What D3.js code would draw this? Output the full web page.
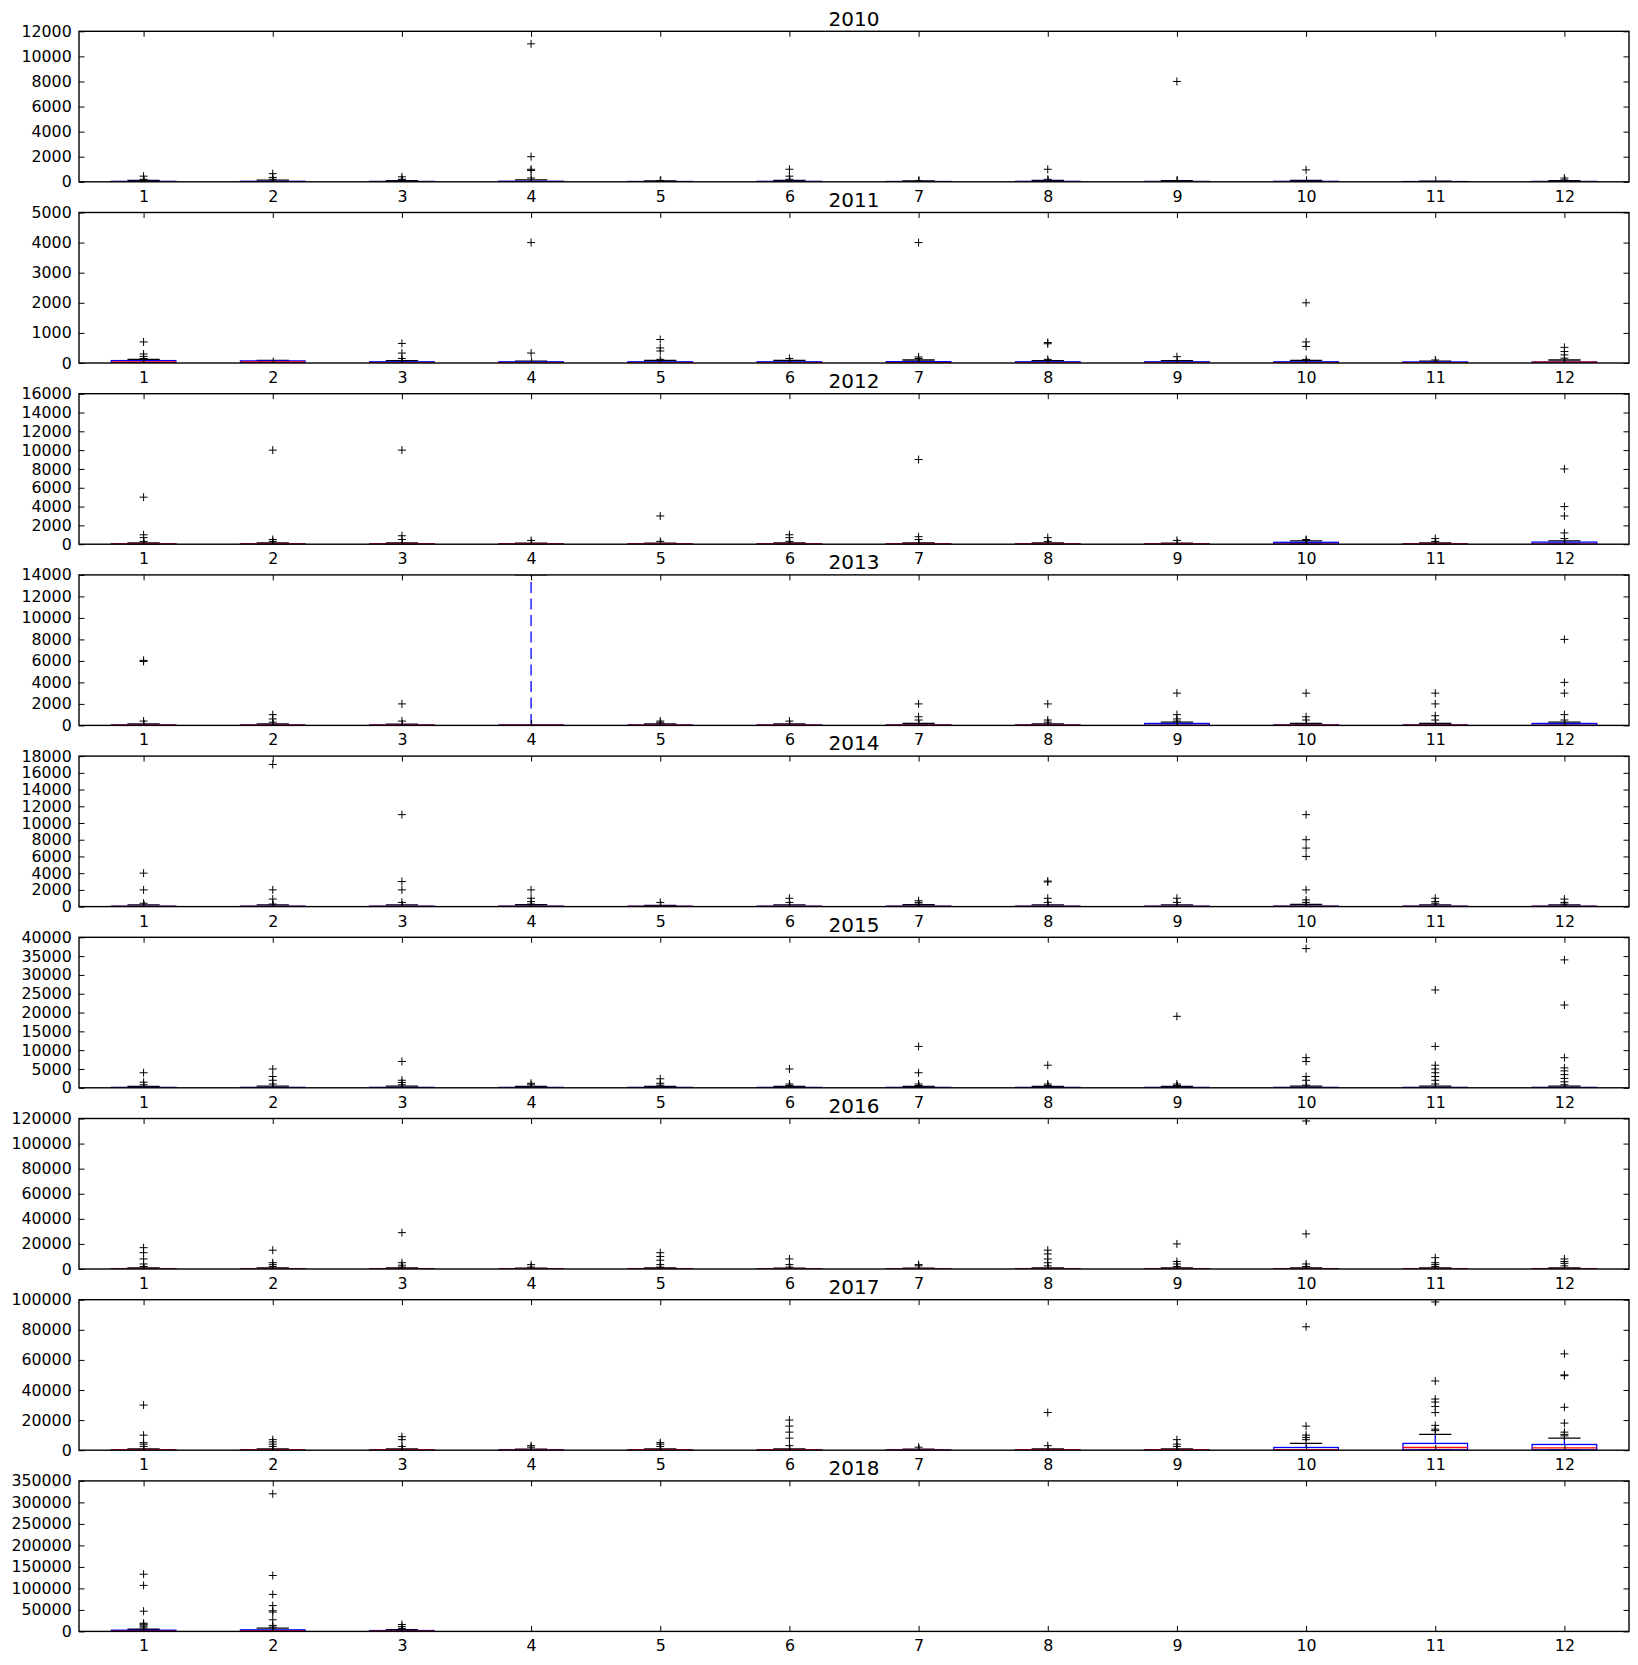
<!DOCTYPE html>
<html><head><meta charset="utf-8">
<script src="https://cdn.jsdelivr.net/npm/d3@7"></script>
<style>
body{margin:0;background:#fff;}
svg{display:block;}
text{font-family:"DejaVu Sans",sans-serif;fill:#000;}
</style>
</head><body>
<svg id="chart" width="1638" height="1665"></svg>
<script>
const years = [2010, 2011, 2012, 2013, 2014, 2015, 2016, 2017, 2018];
const months = [1, 2, 3, 4, 5, 6, 7, 8, 9, 10, 11, 12];
const yMax = [12000, 5000, 16000, 14000, 18000, 40000, 120000, 100000, 350000];
const yStep = [2000, 1000, 2000, 2000, 2000, 5000, 20000, 20000, 50000];

// box stats per month: [low whisker, q1, median, q3, high whisker]
const box2010 = [[0,3,15,35,120],[0,3,15,40,130],[0,3,12,30,100],[0,4,18,45,160],[0,2,10,25,80],[0,3,15,35,120],[0,2,8,25,70],[0,3,15,35,120],[0,3,12,30,90],[0,3,15,35,110],[0,2,6,20,50],[0,3,12,30,90]];
const box2011 = [[0,10,40,80,120],[0,10,40,70,90],[0,2,8,40,80],[0,2,8,40,60],[0,2,8,40,90],[0,2,8,40,90],[0,3,10,45,100],[0,2,8,40,80],[0,2,8,40,80],[0,2,8,40,90],[0,2,8,35,60],[0,15,30,35,100]];
const box2012 = [[0,5,20,45,150],[0,5,20,45,130],[0,5,20,45,150],[0,5,20,40,120],[0,5,20,40,120],[0,5,20,45,150],[0,5,20,45,150],[0,5,20,45,150],[0,5,20,40,120],[0,5,15,200,350],[0,5,20,45,150],[0,5,15,220,350]];
const box2013 = [[0,5,20,40,150],[0,5,20,40,150],[0,5,20,40,120],[0,5,20,40,14000],[0,5,20,40,150],[0,5,20,40,150],[0,5,20,45,180],[0,5,20,45,150],[0,5,10,180,300],[0,5,20,45,180],[0,5,20,45,180],[0,5,10,180,300]];
const box2014 = [[0,5,25,50,200],[0,5,25,50,200],[0,5,25,50,200],[0,5,25,55,220],[0,5,25,45,150],[0,5,25,50,200],[0,5,25,55,220],[0,5,25,55,210],[0,5,25,50,200],[0,5,30,60,250],[0,5,25,55,210],[0,5,25,50,200]];
const box2015 = [[0,10,50,110,400],[0,10,55,120,450],[0,10,55,120,450],[0,10,50,110,400],[0,10,50,110,380],[0,10,50,110,380],[0,10,50,110,400],[0,10,50,110,400],[0,10,50,110,380],[0,10,55,120,450],[0,10,55,120,450],[0,10,55,120,450]];
const box2016 = [[0,30,150,300,900],[0,30,150,300,900],[0,30,150,300,800],[0,30,140,280,700],[0,30,150,300,800],[0,30,140,280,700],[0,30,140,280,700],[0,30,150,300,850],[0,30,150,300,800],[0,30,150,300,900],[0,30,150,300,850],[0,30,150,300,850]];
const box2017 = [[0,30,120,250,900],[0,30,120,250,900],[0,30,120,240,800],[0,30,110,220,700],[0,30,120,240,800],[0,30,120,250,900],[0,30,110,220,700],[0,30,120,240,800],[0,30,120,240,800],[0,100,300,1800,4500],[0,200,1800,4500,10500],[0,200,1500,3800,8000]];
const box2018 = [[0,300,800,2800,5000],[0,300,1000,3600,7500],[0,300,800,2000,4000],null,null,null,null,null,null,null,null,null];

// outliers per month
const fliers2010 = [[450,200,120],[650,350,200],[400,200,150],[11000,2000,1000,900,300],[100],[1000,450,200],[80],[1000,200],[8000,100],[950],[],[300,150]];
const fliers2011 = [[700,300,220,150],[],[650,330,150,80],[4000,330],[780,500,400,120],[150],[4000,200,150],[680,640,120],[210],[2000,700,550,120],[100],[520,380,270,160]];
const fliers2012 = [[5000,1000,700,300],[10000,500,300],[10000,900,500],[400],[3000,300],[1000,700,300],[9000,800,500],[700,300],[400],[500,400],[600,300],[8000,4000,3000,1200,600]];
const fliers2013 = [[6050,5950,400],[1000,600,300],[2000,400],[],[400,250],[400],[2000,800,500],[2000,500,300],[3000,1000,600,400],[3000,800,500],[3000,2000,900,500],[8000,4000,3000,1000,500]];
const fliers2014 = [[4000,2000,400],[17000,2000,900,300],[11000,3000,2000,500],[2000,1000,600,300],[500],[1000,500],[700,500,300],[3050,2950,1000,500],[1000,500],[11000,8000,7000,6000,2000,800,500],[1000,600,400],[900,500,300]];
const fliers2015 = [[4000,1500,800],[5000,3000,2000,1000],[7000,2000,1400,800],[1200,800],[2400,1200,700],[5000,1000,600],[11000,4000,1000,600],[6000,1000,600],[19000,1000,600],[37000,8000,7000,3000,2000,700],[26000,11000,6000,5000,4000,3000,2000,1000],[34000,22000,8000,5300,4500,3500,2500,1600,800]];
const fliers2016 = [[17000,13000,8000,4000,2000],[15000,5000,3500,2000],[29000,5000,3000,1500],[3500,1500],[13000,10000,7000,3500,1500],[8000,3500,1500],[3500,2500],[15000,12000,8000,5000,2500],[20000,6000,4000,2000],[118000,28000,4000,2000],[9000,5000,3500,2000],[8000,6000,4500,2500]];
const fliers2017 = [[30000,10000,5000,4000,2500],[7000,5500,4000,2500],[9000,7000,2500],[3000,2000],[5000,4000,2500],[20000,16000,12000,8000,3000],[2000],[25000,3000],[7000,4000,2500],[82000,16000,10000,8500,7000],[98500,46000,34000,32000,29000,25000,16500,14000,13000],[64000,50000,49500,28500,18000,12000,10500,9500]];
const fliers2018 = [[133000,107000,47000,19000,17000,15000,12000,8000],[320000,130000,86000,60000,48000,45000,27000,14000,10000],[16000,11000,7000],[],[],[],[],[],[],[],[],[]];

const boxes = [box2010, box2011, box2012, box2013, box2014, box2015, box2016, box2017, box2018];
const fliers = [fliers2010, fliers2011, fliers2012, fliers2013, fliers2014, fliers2015, fliers2016, fliers2017, fliers2018];

const svg = d3.select('#chart');
const left = 79, right = 1629, top0 = 31.3, pitch = 181.2, ph = 150.5;
const x = d3.scaleLinear().domain([0.5, 12.5]).range([left, right]);
const boxHalf = 0.25, capHalf = 0.125;
const lw = 1.3;

years.forEach((yr, i) => {
  const top = top0 + i * pitch, bottom = top + ph;
  const y = d3.scaleLinear().domain([0, yMax[i]]).range([bottom, top]);
  const g = svg.append('g');
  const cid = 'clip' + i;
  svg.append('clipPath').attr('id', cid).append('rect')
    .attr('x', left).attr('y', top).attr('width', right - left).attr('height', ph);
  const data = g.append('g').attr('clip-path', `url(#${cid})`);

  months.forEach((m, j) => {
    const s = boxes[i][j];
    if (s) {
      const [lo, q1, med, q3, hi] = s;
      data.append('line').attr('x1', x(m)).attr('x2', x(m)).attr('y1', y(q3)).attr('y2', y(hi))
        .attr('stroke', '#0000ff').attr('stroke-width', lw).attr('stroke-dasharray', '11,5.5');
      data.append('line').attr('x1', x(m)).attr('x2', x(m)).attr('y1', y(q1)).attr('y2', y(lo))
        .attr('stroke', '#0000ff').attr('stroke-width', lw).attr('stroke-dasharray', '11,5.5');
      [lo, hi].forEach(v => {
        data.append('line').attr('x1', x(m - capHalf)).attr('x2', x(m + capHalf)).attr('y1', y(v)).attr('y2', y(v))
          .attr('stroke', '#000').attr('stroke-width', lw);
      });
      data.append('rect').attr('x', x(m - boxHalf)).attr('width', x(m + boxHalf) - x(m - boxHalf))
        .attr('y', y(q3)).attr('height', Math.max(0, y(q1) - y(q3)))
        .attr('fill', 'none').attr('stroke', '#0000ff').attr('stroke-width', lw);
      data.append('line').attr('x1', x(m - boxHalf)).attr('x2', x(m + boxHalf)).attr('y1', y(med)).attr('y2', y(med))
        .attr('stroke', '#ff0000').attr('stroke-width', lw);
    }
    fliers[i][j].forEach(v => {
      const cx = x(m), cy = y(v), r = 4;
      data.append('path').attr('d', `M${cx - r},${cy}H${cx + r}M${cx},${cy - r}V${cy + r}`)
        .attr('stroke', '#000').attr('stroke-width', 1).attr('fill', 'none');
    });
  });

  const yt = d3.range(0, yMax[i] + 1, yStep[i]);
  const ax = g.append('g').attr('transform', `translate(${left},0)`)
    .call(d3.axisLeft(y).tickValues(yt).tickFormat(d3.format('d')).tickSizeInner(-5.5).tickSizeOuter(0).tickPadding(7.3));
  const ar = g.append('g').attr('transform', `translate(${right},0)`)
    .call(d3.axisRight(y).tickValues(yt).tickFormat('').tickSizeInner(-5.5).tickSizeOuter(0));
  const ab = g.append('g').attr('transform', `translate(0,${bottom})`)
    .call(d3.axisBottom(x).tickValues(months).tickFormat(d3.format('d')).tickSizeInner(-5.5).tickSizeOuter(0).tickPadding(8.8));
  const at = g.append('g').attr('transform', `translate(0,${top})`)
    .call(d3.axisTop(x).tickValues(months).tickFormat('').tickSizeInner(-5.5).tickSizeOuter(0));
  [ax, ar, ab, at].forEach(a => {
    a.select('.domain').remove();
    a.selectAll('.tick line').attr('stroke', '#000').attr('stroke-width', 1);
    a.selectAll('text').attr('font-size', '15.8px').attr('font-family', '"DejaVu Sans",sans-serif').attr('fill', '#000');
  });
  g.append('rect').attr('x', left).attr('y', top).attr('width', right - left).attr('height', ph)
    .attr('fill', 'none').attr('stroke', '#000').attr('stroke-width', 1.4);
  g.append('text').attr('x', (left + right) / 2).attr('y', top - 5.8).attr('text-anchor', 'middle')
    .attr('font-size', '20px').text(String(yr));
});
</script>
</body></html>
